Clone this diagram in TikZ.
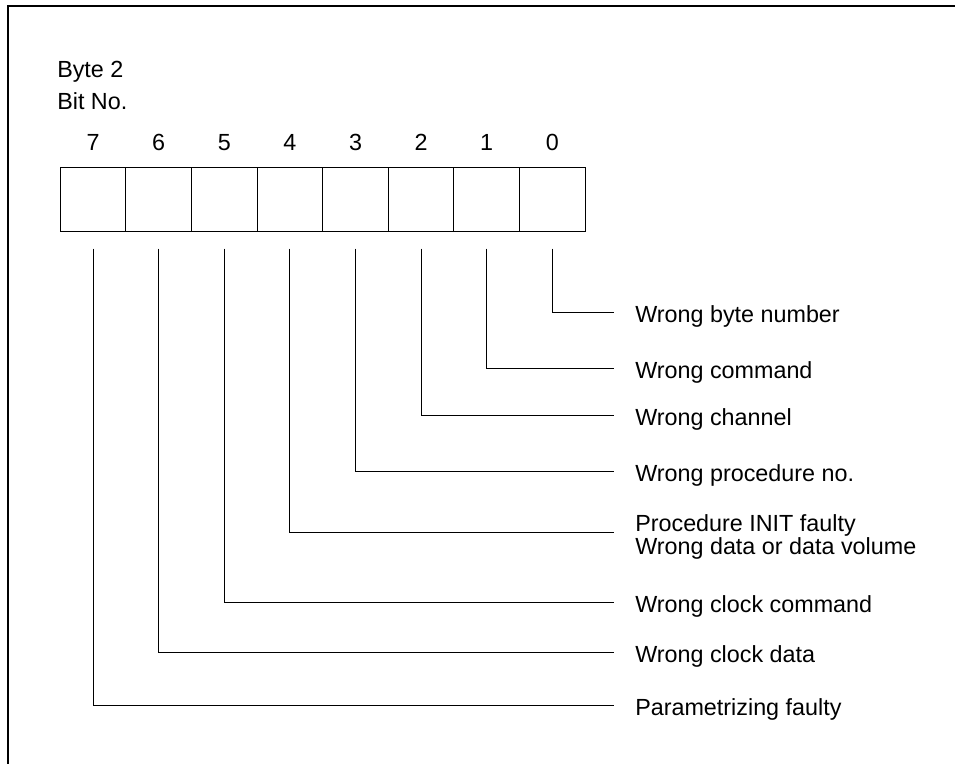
\documentclass[tikz,border=0pt]{standalone}
\usepackage{fontspec}
\setmainfont{Liberation Sans}
\usetikzlibrary{positioning}

\begin{document}
\begin{tikzpicture}[
    x=0.75pt, y=-0.75pt,
    bitbox/.style={draw, rectangle, minimum width=49.2pt, minimum height=48pt, inner sep=0pt, line width=0.75pt},
    bitno/.style={inner sep=0pt, anchor=base, font=\fontsize{17.5}{17.25}\selectfont},
    heading/.style={inner sep=0pt, anchor=base west, font=\fontsize{17.5}{17.25}\selectfont},
    flag/.style={inner sep=0pt, anchor=west, align=left, text height=15pt, text depth=0pt, font=\fontsize{17.5}{17.25}\selectfont},
    conn/.style={draw, line width=0.75pt, shorten <=12.75pt, shorten >=15.75pt}
]
\useasboundingbox (0,0) rectangle (955,763);
% frame
\draw[line width=1.5pt] (8,764) -- (8,6) -- (956,6);

\node[heading] (byte) at (57,77.7) {Byte 2};
\node[heading] (bitlabel) at (57,110) {Bit No.};

% register cells, bit 7 on the left
\node[bitbox] (b7) at (93.1,199) {};
\node[bitbox] (b6) at (158.7,199) {};
\node[bitbox] (b5) at (224.3,199) {};
\node[bitbox] (b4) at (289.9,199) {};
\node[bitbox] (b3) at (355.5,199) {};
\node[bitbox] (b2) at (421.1,199) {};
\node[bitbox] (b1) at (486.7,199) {};
\node[bitbox] (b0) at (552.3,199) {};

\node[bitno] (n7) at (93.1,151) {7};
\node[bitno] (n6) at (158.7,151) {6};
\node[bitno] (n5) at (224.3,151) {5};
\node[bitno] (n4) at (289.9,151) {4};
\node[bitno] (n3) at (355.5,151) {3};
\node[bitno] (n2) at (421.1,151) {2};
\node[bitno] (n1) at (486.7,151) {1};
\node[bitno] (n0) at (552.3,151) {0};

% error flags
\node[flag] (f0) at (635,312) {Wrong byte number};
\node[flag] (f1) at (635,368) {Wrong command};
\node[flag] (f2) at (635,415) {Wrong channel};
\node[flag] (f3) at (635,471) {Wrong procedure no.};
\node[flag, text height=33pt] (f4) at (635,532) {Procedure INIT faulty\\Wrong data or data volume};
\node[flag] (f5) at (635,602) {Wrong clock command};
\node[flag] (f6) at (635,652) {Wrong clock data};
\node[flag] (f7) at (635,705) {Parametrizing faulty};

\draw[conn] (b0.south) |- (f0.west);
\draw[conn] (b1.south) |- (f1.west);
\draw[conn] (b2.south) |- (f2.west);
\draw[conn] (b3.south) |- (f3.west);
\draw[conn] (b4.south) |- (f4.west);
\draw[conn] (b5.south) |- (f5.west);
\draw[conn] (b6.south) |- (f6.west);
\draw[conn] (b7.south) |- (f7.west);
\end{tikzpicture}
\end{document}
